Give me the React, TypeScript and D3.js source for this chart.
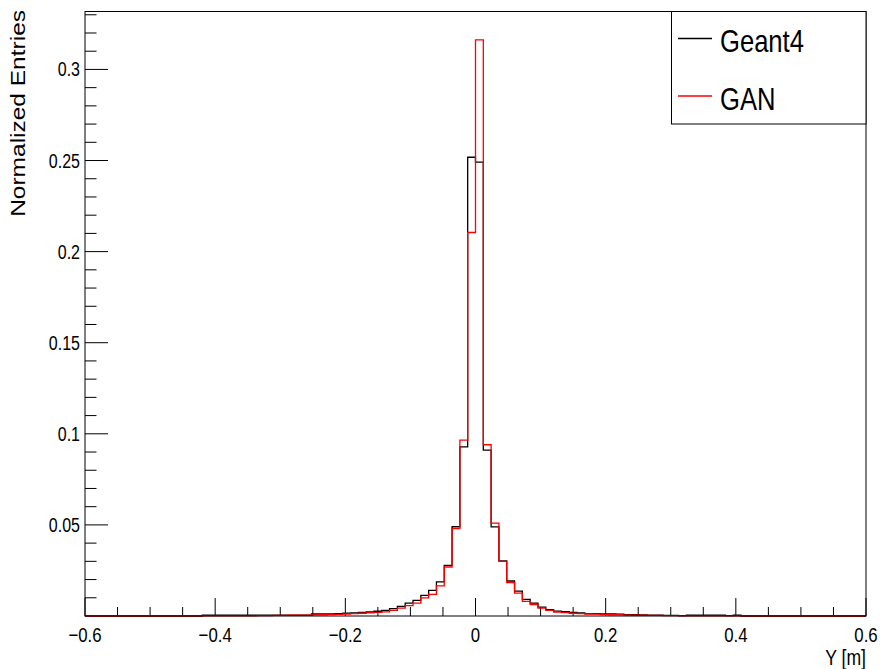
import React from "react";
import * as d3 from "d3";

const xMin = -0.6;
const xMax = 0.6;
const nBins = 100;

const geant4: number[] = [
  0, 0, 0, 0, 0, 0, 0, 0, 0, 0,
  0, 0, 0, 0, 0, 0.0004, 0.0004, 0.0004, 0.0004, 0.0004,
  0.0004, 0.0004, 0.0004, 0.0004, 0.0004, 0.0004, 0.0004, 0.0005, 0.0005, 0.0011,
  0.0012, 0.0012, 0.0013, 0.0015, 0.0017, 0.002, 0.0022, 0.0026, 0.0031, 0.004,
  0.0053, 0.0071, 0.0086, 0.0113, 0.0141, 0.0187, 0.0278, 0.049, 0.0928, 0.2518,
  0.2491, 0.091, 0.0489, 0.0302, 0.0192, 0.0137, 0.0091, 0.0071, 0.0049, 0.0035,
  0.0027, 0.0024, 0.002, 0.0017, 0.0013, 0.0013, 0.0011, 0.0011, 0.001, 0.0008,
  0.0007, 0.0006, 0.0005, 0.0004, 0.0003, 0.0003, 0.0002, 0.0004, 0.0004, 0.0004,
  0.0004, 0.0004, 0.0002, 0.0004, 0, 0, 0, 0, 0, 0,
  0, 0, 0, 0, 0, 0, 0, 0, 0, 0,
];

const gan: number[] = [
  0, 0, 0, 0, 0, 0, 0, 0, 0, 0,
  0, 0, 0, 0, 0, 0.0001, 0.0001, 0.0001, 0.0001, 0.0001,
  0.0001, 0.0001, 0.0002, 0.0002, 0.0003, 0.0003, 0.0004, 0.0004, 0.0004, 0.0006,
  0.0007, 0.0008, 0.0009, 0.0011, 0.0013, 0.0015, 0.0017, 0.002, 0.0023, 0.0031,
  0.0043, 0.0057, 0.0071, 0.01, 0.0119, 0.0165, 0.0269, 0.048, 0.0965, 0.2105,
  0.3162, 0.094, 0.051, 0.03, 0.0183, 0.0126, 0.008, 0.0062, 0.0043, 0.0031,
  0.0021, 0.0018, 0.0015, 0.0013, 0.0011, 0.001, 0.0008, 0.0007, 0.0006, 0.0005,
  0.0004, 0.0004, 0.0003, 0.0003, 0.0002, 0.0002, 0.0001, 0.0001, 0.0001, 0.0001,
  0.0001, 0.0001, 0.0001, 0.0001, 0, 0, 0, 0, 0, 0,
  0, 0, 0, 0, 0, 0, 0, 0, 0, 0,
];

const xTickLabels = [-0.6, -0.4, -0.2, 0, 0.2, 0.4, 0.6];
const yTickLabels = [0.05, 0.1, 0.15, 0.2, 0.25, 0.3];
const seriesNames = ["Geant4", "GAN"];
const seriesColors = ["#000000", "#ff0000"];

const W = 881;
const H = 669;
const L = 85;
const R = 866;
const T = 11.5;
const B = 616;
const yMax = 0.3318;
const SX = 0.8;
const FONT = "'Liberation Sans', Arial, Helvetica, sans-serif";

export default function App() {
  const x = d3.scaleLinear().domain([xMin, xMax]).range([L, R]);
  const y = d3.scaleLinear().domain([0, yMax]).range([B, T]);
  const bw = (xMax - xMin) / nBins;

  const histPath = (vals: number[]) => {
    const pts: [number, number][] = [[x(xMin), y(0)]];
    vals.forEach((v, i) => {
      pts.push([x(xMin + i * bw), y(v)]);
      pts.push([x(xMin + (i + 1) * bw), y(v)]);
    });
    pts.push([x(xMax), y(0)]);
    return d3.line()(pts) || "";
  };

  const xMinor = d3.range(0, 25).map((k) => xMin + k * 0.05);
  const yMinor = d3.range(1, 34).map((k) => k * 0.01).filter((v) => v <= yMax);

  const fmt = (v: number) => {
    const s = d3.format("")(+v.toFixed(2));
    return s.replace("-", "\u2212");
  };

  const label = (
    tx: number,
    ty: number,
    text: string,
    size: number,
    anchor: string,
    rotate = false,
    key?: string
  ) => (
    <g key={key} transform={`translate(${tx},${ty}) scale(${SX},1)${rotate ? " rotate(-90)" : ""}`}>
      <text x={0} y={0} fontSize={size} fontFamily={FONT} textAnchor={anchor} fill="#000">
        {text}
      </text>
    </g>
  );

  return (
    <svg
      width={W}
      height={H}
      style={{ position: "absolute", left: 0, top: 0, background: "#fff" }}
    >
      <rect x={0} y={0} width={W} height={H} fill="#fff" />
      {xMinor.map((v, i) => {
        const major = Math.abs(Math.round(v * 100) % 20) === 0;
        return (
          <line
            key={"xt" + i}
            x1={x(v)}
            x2={x(v)}
            y1={B}
            y2={B - (major ? 18 : 9)}
            stroke="#000"
            strokeWidth={1}
          />
        );
      })}
      {yMinor.map((v, i) => {
        const major = Math.round(v * 100) % 5 === 0;
        return (
          <line
            key={"yt" + i}
            x1={L}
            x2={L + (major ? 23 : 11.5)}
            y1={y(v)}
            y2={y(v)}
            stroke="#000"
            strokeWidth={1}
          />
        );
      })}
      <path d={histPath(geant4)} fill="none" stroke={seriesColors[0]} strokeWidth={1.3} />
      <path d={histPath(gan)} fill="none" stroke={seriesColors[1]} strokeWidth={1.3} />
      <rect x={L} y={T} width={R - L} height={B - T} fill="none" stroke="#000" strokeWidth={1} />
      {xTickLabels.map((v, i) => label(x(v), 642, fmt(v), 21, "middle", false, "xl" + i))}
      {yTickLabels.map((v, i) => label(80, y(v) + 7, fmt(v), 20, "end", false, "yl" + i))}
      {label(R, 665, "Y [m]", 22, "end")}
      {label(25, 10, "Normalized Entries", 24.5, "end", true)}
      <rect x={671.5} y={T} width={R - 671.5} height={124 - T} fill="#fff" stroke="#000" strokeWidth={1} />
      {seriesNames.map((name, i) => {
        const ly = i === 0 ? 38.5 : 96;
        return (
          <g key={"lg" + i}>
            <line x1={678} x2={712} y1={ly} y2={ly} stroke={seriesColors[i]} strokeWidth={1.3} />
            {label(720, ly + 13.5, name, 32, "start")}
          </g>
        );
      })}
    </svg>
  );
}
